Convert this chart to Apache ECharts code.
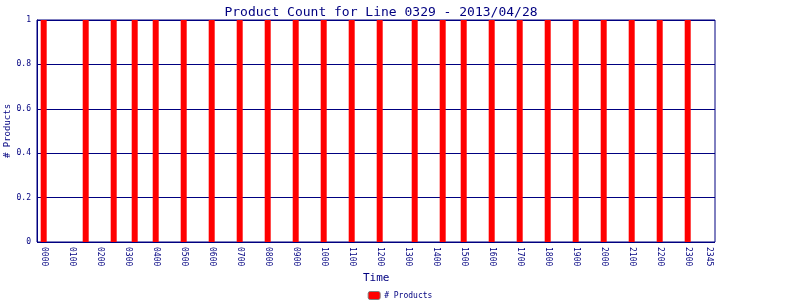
<!DOCTYPE html>
<html><head><meta charset="utf-8">
<script src="https://cdn.jsdelivr.net/npm/echarts@6/dist/echarts.min.js"></script>
<style>html,body{margin:0;padding:0;background:#fff}#c{width:800px;height:300px}</style>
</head><body><div id="c"></div>
<script>
var categories = [
"0000","0015","0030","0045","0100","0115","0130","0145",
"0200","0215","0230","0245","0300","0315","0330","0345",
"0400","0415","0430","0445","0500","0515","0530","0545",
"0600","0615","0630","0645","0700","0715","0730","0745",
"0800","0815","0830","0845","0900","0915","0930","0945",
"1000","1015","1030","1045","1100","1115","1130","1145",
"1200","1215","1230","1245","1300","1315","1330","1345",
"1400","1415","1430","1445","1500","1515","1530","1545",
"1600","1615","1630","1645","1700","1715","1730","1745",
"1800","1815","1830","1845","1900","1915","1930","1945",
"2000","2015","2030","2045","2100","2115","2130","2145",
"2200","2215","2230","2245","2300","2315","2330","2345"];
var productCounts = [
1,0,0,0,0,0,1,0, 0,0,1,0,0,1,0,0,
1,0,0,0,1,0,0,0, 1,0,0,0,1,0,0,0,
1,0,0,0,1,0,0,0, 1,0,0,0,1,0,0,0,
1,0,0,0,0,1,0,0, 0,1,0,0,1,0,0,0,
1,0,0,0,1,0,0,0, 1,0,0,0,1,0,0,0,
1,0,0,0,1,0,0,0, 1,0,0,0,1,0,0,0];
var yTicks = [0, 0.2, 0.4, 0.6, 0.8, 1];
var titleText = "Product Count for Line 0329 - 2013/04/28";
var seriesName = "# Products";

var NAVY = '#000080';
var MONO = 'DejaVu Sans Mono';
var chart = echarts.init(document.getElementById('c'), null, {renderer:'canvas'});
chart.setOption({
  animation:false,
  backgroundColor:'#fff',
  title:{text:titleText, left:376, textAlign:'center', top:1,
    textStyle:{color:NAVY, fontFamily:MONO, fontSize:13, fontWeight:'normal'}},
  legend:{data:[seriesName], left:'center', top:286, itemWidth:12, itemHeight:8, itemGap:5,
    itemStyle:{borderColor:'#808080', borderWidth:1},
    textStyle:{color:NAVY, fontFamily:MONO, fontSize:8, padding:[0,0,0,-1]}},
  grid:[
    {left:37, right:85, top:20, bottom:58, show:true, borderColor:NAVY, borderWidth:1, backgroundColor:'#fff',
      containLabel:false, outerBoundsMode:'none'},
    {left:40.2, right:87.8, top:20, bottom:58, containLabel:false, outerBoundsMode:'none'}
  ],
  xAxis:[
    {type:'category', gridIndex:0, data:categories, show:false},
    {type:'category', gridIndex:1, data:categories,
      name:'Time', nameLocation:'middle', nameGap:31, nameMoveOverlap:false,
      nameTextStyle:{color:NAVY, fontFamily:MONO, fontSize:11},
      axisLine:{show:false}, axisTick:{show:false},
      axisLabel:{color:NAVY, fontFamily:MONO, fontSize:8, rotate:-90, margin:5,
        interval:function(i){return i%4===0 || i===categories.length-1;}}}
  ],
  yAxis:[
    {type:'value', gridIndex:0, position:'left', min:yTicks[0], max:yTicks[yTicks.length-1], interval:yTicks[1]-yTicks[0],
      name:seriesName, nameLocation:'middle', nameGap:25, nameMoveOverlap:false,
      nameTextStyle:{color:NAVY, fontFamily:MONO, fontSize:9},
      axisLine:{show:true, lineStyle:{color:NAVY}}, axisTick:{show:false},
      axisLabel:{color:NAVY, fontFamily:MONO, fontSize:8, margin:6},
      splitLine:{show:true, lineStyle:{color:NAVY, width:1}}},
    {type:'value', gridIndex:1, min:0, max:1, show:false}
  ],
  series:[{name:seriesName, type:'bar', xAxisIndex:1, yAxisIndex:1, data:productCounts,
    barWidth:6, itemStyle:{color:'#ff0000'}}]
});
</script></body></html>
